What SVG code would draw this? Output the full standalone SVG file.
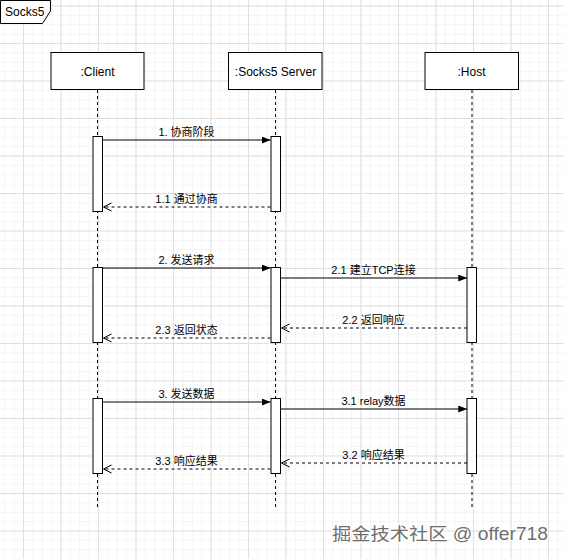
<svg xmlns="http://www.w3.org/2000/svg" width="564" height="559" viewBox="0 0 564 559">
<style>
text{font-family:"Liberation Sans","Noto Sans CJK SC",sans-serif;fill:#000}
.node{font-size:12px;text-anchor:middle}
.lbl{font-size:11px;text-anchor:middle}
.box{fill:#fff;stroke:#000;stroke-width:1}
.bar{fill:#fff;stroke:#000;stroke-width:1}
.life{stroke:#000;stroke-width:1;stroke-dasharray:3 3;fill:none}
.msg{stroke:#000;stroke-width:1;fill:none}
.ret{stroke:#000;stroke-width:1;fill:none;stroke-dasharray:3 3}
</style>
<defs>
<pattern id="minor" patternUnits="userSpaceOnUse" x="23" y="5.5" width="9.375" height="9.375">
<path d="M0 0.5H9.375M0.5 0V9.375" stroke="#f4f4f4" stroke-width="1" fill="none"/>
</pattern>
<pattern id="major" patternUnits="userSpaceOnUse" x="23" y="5.5" width="37.5" height="37.5">
<path d="M0 0.5H37.5M0.5 0V37.5" stroke="#e0e0e0" stroke-width="1" fill="none"/>
</pattern>
<marker id="block" markerUnits="userSpaceOnUse" viewBox="0 0 10 8" refX="10" refY="4" markerWidth="9" markerHeight="7" orient="auto">
<path d="M0 0L10 4L0 8Z" fill="#000"/>
</marker>
<marker id="open" markerUnits="userSpaceOnUse" viewBox="0 0 10 10" refX="9" refY="5" markerWidth="10" markerHeight="10" orient="auto">
<path d="M1 1L9 5L1 9" fill="none" stroke="#000" stroke-width="1"/>
</marker>
</defs>
<rect width="564" height="559" fill="#fff"/>
<rect width="564" height="559" fill="url(#minor)"/>
<rect width="564" height="559" fill="url(#major)"/>

<g id="frame">
<path d="M0.5 0.5H50.5V11L42.5 23.5H0.5Z" fill="#fff" stroke="#000" stroke-width="1"/>
<text x="5" y="15.5" font-size="12px">Socks5</text>
</g>

<g id="connectors">
<line class="life" x1="97.5" y1="90" x2="97.5" y2="508"/>
<line class="life" x1="275.5" y1="90" x2="275.5" y2="508"/>
<line class="life" x1="472" y1="90" x2="472" y2="508"/>

<line class="msg" x1="102.5" y1="140" x2="270.5" y2="140" marker-end="url(#block)"/>
<line class="ret" x1="270.5" y1="207" x2="103.5" y2="207" marker-end="url(#open)"/>

<line class="msg" x1="102.5" y1="268" x2="270.5" y2="268" marker-end="url(#block)"/>
<line class="msg" x1="280.5" y1="278" x2="467" y2="278" marker-end="url(#block)"/>
<line class="ret" x1="467" y1="328" x2="281.5" y2="328" marker-end="url(#open)"/>
<line class="ret" x1="270.5" y1="338" x2="103.5" y2="338" marker-end="url(#open)"/>

<line class="msg" x1="102.5" y1="402" x2="270.5" y2="402" marker-end="url(#block)"/>
<line class="msg" x1="280.5" y1="409" x2="467" y2="409" marker-end="url(#block)"/>
<line class="ret" x1="467" y1="463" x2="281.5" y2="463" marker-end="url(#open)"/>
<line class="ret" x1="270.5" y1="469" x2="103.5" y2="469" marker-end="url(#open)"/>

<text class="lbl" x="186.5" y="136">1. 协商阶段</text>
<text class="lbl" x="186.5" y="203">1.1 通过协商</text>
<text class="lbl" x="186.5" y="264">2. 发送请求</text>
<text class="lbl" x="373.5" y="274">2.1 建立TCP连接</text>
<text class="lbl" x="373.5" y="324">2.2 返回响应</text>
<text class="lbl" x="186.5" y="334">2.3 返回状态</text>
<text class="lbl" x="186.5" y="398">3. 发送数据</text>
<text class="lbl" x="373.5" y="405">3.1 relay数据</text>
<text class="lbl" x="373.5" y="459">3.2 响应结果</text>
<text class="lbl" x="186.5" y="465">3.3 响应结果</text>
</g>

<g id="client">
<rect class="box" x="51" y="52.5" width="93" height="37"/>
<text class="node" x="97.5" y="75.5">:Client</text>
<rect class="bar" x="93" y="136.5" width="9.5" height="75"/>
<rect class="bar" x="93" y="267.5" width="9.5" height="75"/>
<rect class="bar" x="93" y="398.5" width="9.5" height="75"/>
</g>

<g id="server">
<rect class="box" x="228.5" y="52.5" width="93.5" height="37"/>
<text class="node" x="275.5" y="75.5">:Socks5 Server</text>
<rect class="bar" x="271" y="136.5" width="9.5" height="75"/>
<rect class="bar" x="271" y="267.5" width="9.5" height="75"/>
<rect class="bar" x="271" y="398.5" width="9.5" height="75"/>
</g>

<g id="host">
<rect class="box" x="425" y="52.5" width="93.5" height="37"/>
<text class="node" x="471.5" y="75.5">:Host</text>
<rect class="bar" x="467" y="267.5" width="9.5" height="75"/>
<rect class="bar" x="467" y="398.5" width="9.5" height="75"/>
</g>

<g id="watermark">
<text x="332" y="540" font-size="17.5px" textLength="216" lengthAdjust="spacingAndGlyphs" style="fill:#6e6e6e;stroke:#fff;stroke-width:2;paint-order:stroke">掘金技术社区 @ offer718</text>
</g>
</svg>
